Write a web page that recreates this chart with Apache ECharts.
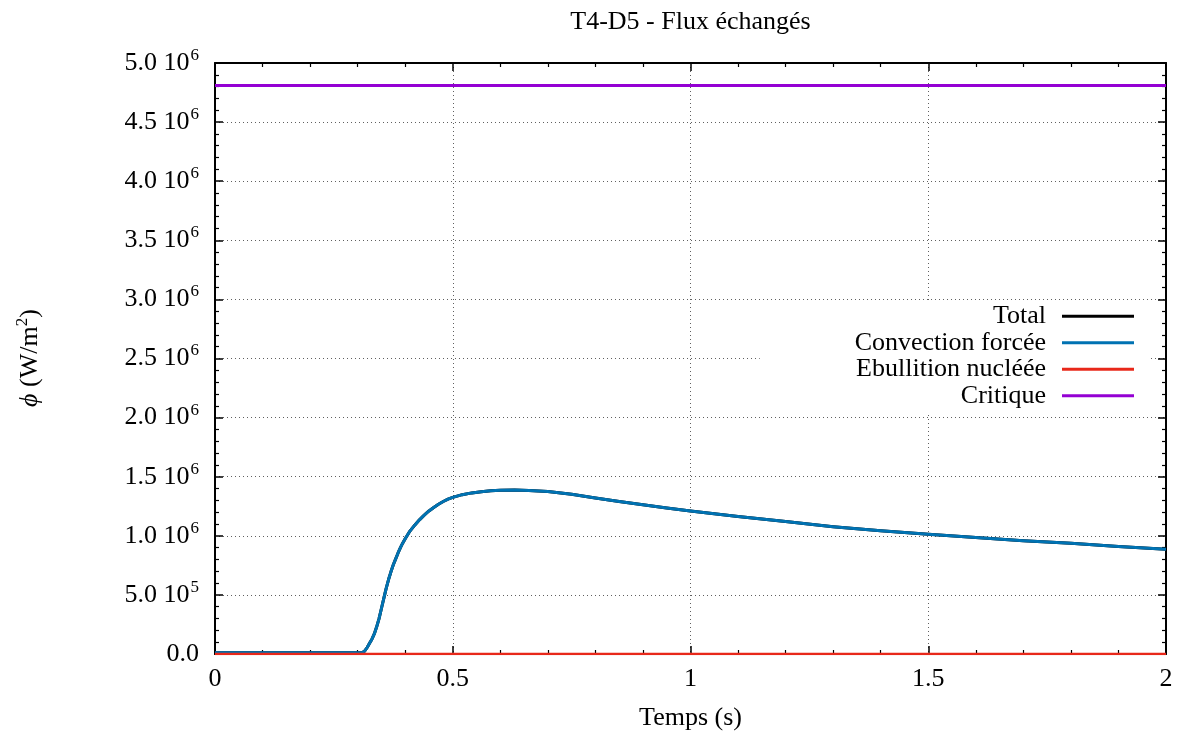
<!DOCTYPE html>
<html>
<head>
<meta charset="utf-8">
<script src="https://cdn.jsdelivr.net/npm/echarts@6/dist/echarts.min.js"></script>
<style>html,body{margin:0;padding:0;background:#fff}#c{width:1179px;height:735px}</style>
</head>
<body>
<div id="c"></div>
<script>
// ---- data ----
const titleText = 'T4-D5 - Flux échangés';
const xName = 'Temps (s)';
const seriesNames = ['Total', 'Convection forcée', 'Ebullition nucléée', 'Critique'];
const xTickLabels = ['0', '0.5', '1', '1.5', '2'];
const yTickMantissa = ['0.0', '5.0', '1.0', '1.5', '2.0', '2.5', '3.0', '3.5', '4.0', '4.5', '5.0'];
const yTickExponent = ['', '5', '6', '6', '6', '6', '6', '6', '6', '6', '6'];

const times = [0, 0.1, 0.2, 0.3, 0.305, 0.31, 0.315, 0.32, 0.325, 0.33, 0.335, 0.34, 0.345, 0.35, 0.355, 0.36, 0.365, 0.37,
  0.375, 0.38, 0.385, 0.39, 0.395, 0.40, 0.41, 0.42, 0.43, 0.44, 0.45, 0.46, 0.47, 0.48, 0.49, 0.50, 0.52, 0.54, 0.56, 0.58, 0.60,
  0.63, 0.66, 0.70, 0.75, 0.80, 0.85, 0.90, 0.95, 1.0, 1.1, 1.2, 1.3, 1.4, 1.5, 1.6, 1.7, 1.8, 1.9, 2.0];
const convection = [1.0e4, 1.0e4, 1.0e4, 1.0e4, 1.05e4, 1.3e4, 2.6e4, 5.5e4, 9.0e4, 1.25e5, 1.7e5, 2.3e5, 3.0e5, 3.85e5, 4.7e5, 5.55e5, 6.3e5, 6.95e5,
  7.55e5, 8.05e5, 8.55e5, 9.0e5, 9.4e5, 9.75e5, 1.04e6, 1.09e6, 1.135e6, 1.175e6, 1.21e6, 1.24e6, 1.267e6, 1.29e6, 1.31e6, 1.325e6, 1.348e6, 1.363e6, 1.373e6, 1.381e6, 1.385e6,
  1.387e6, 1.384e6, 1.374e6, 1.352e6, 1.32e6, 1.29e6, 1.262e6, 1.236e6, 1.21e6, 1.163e6, 1.12e6, 1.077e6, 1.042e6, 1.013e6, 0.985e6, 0.958e6, 0.936e6, 0.91e6, 0.886e6];
const total = [1.0e4, 1.0e4, 1.0e4, 1.0e4, 1.05e4, 1.3e4, 2.6e4, 5.5e4, 9.0e4, 1.25e5, 1.7e5, 2.3e5, 3.0e5, 3.85e5, 4.7e5, 5.55e5, 6.3e5, 6.95e5,
  7.55e5, 8.05e5, 8.55e5, 9.0e5, 9.4e5, 9.75e5, 1.04e6, 1.09e6, 1.135e6, 1.175e6, 1.21e6, 1.24e6, 1.267e6, 1.29e6, 1.31e6, 1.325e6, 1.348e6, 1.363e6, 1.373e6, 1.381e6, 1.385e6,
  1.387e6, 1.384e6, 1.374e6, 1.352e6, 1.32e6, 1.29e6, 1.262e6, 1.236e6, 1.21e6, 1.163e6, 1.12e6, 1.077e6, 1.042e6, 1.013e6, 0.985e6, 0.958e6, 0.936e6, 0.91e6, 0.886e6];
const sparseTimes = [0, 0.5, 1.0, 1.5, 2.0];
const ebullition = [0, 0, 0, 0, 0];
const critique = [4.81e6, 4.81e6, 4.81e6, 4.81e6, 4.81e6];

const colors = ['#000000', '#0072b2', '#e8281a', '#9400d3'];

// ---- build ----
const FONT = "'Liberation Serif', 'DejaVu Serif', serif";
const FS = 26;
function pairs(xs, ys) { return xs.map((x, i) => [x, ys[i]]); }

const gridLine = { show: true, lineStyle: { color: '#606060', width: 1, type: [1, 3] } };
const axisLineStyle = { show: true, onZero: false, lineStyle: { color: '#000', width: 2 } };
const tickStyle = { show: true, inside: true, length: 8, lineStyle: { color: '#000', width: 1.5 } };
const minorStyle = { show: true, splitNumber: 5, length: 4, lineStyle: { color: '#000', width: 1.2 } };

const option = {
  animation: false,
  backgroundColor: '#fff',
  color: colors,
  grid: { left: 215, right: 13, top: 63, bottom: 81, containLabel: false },
  xAxis: [
    {
      type: 'value', min: 0, max: 2, interval: 0.5, position: 'bottom',
      axisLine: axisLineStyle, axisTick: tickStyle, minorTick: minorStyle, splitLine: gridLine,
      axisLabel: {
        margin: 12, color: '#000', fontFamily: FONT, fontSize: FS,
        formatter: (v) => xTickLabels[Math.round(v / 0.5)]
      }
    },
    {
      type: 'value', min: 0, max: 2, interval: 0.5, position: 'top',
      axisLine: axisLineStyle, axisTick: tickStyle, minorTick: minorStyle,
      splitLine: { show: false }, axisLabel: { show: false }
    }
  ],
  yAxis: [
    {
      type: 'value', min: 0, max: 5e6, interval: 5e5, position: 'left',
      axisLine: axisLineStyle, axisTick: tickStyle, minorTick: minorStyle, splitLine: gridLine,
      axisLabel: {
        margin: 16, color: '#000',
        formatter: (v) => {
          const i = Math.round(v / 5e5);
          return yTickExponent[i] ? '{m|' + yTickMantissa[i] + ' 10}{e|' + yTickExponent[i] + '}' : '{m|' + yTickMantissa[i] + '}';
        },
        rich: {
          m: { fontFamily: FONT, fontSize: FS, lineHeight: FS, color: '#000', verticalAlign: 'bottom' },
          e: { fontFamily: FONT, fontSize: 17, lineHeight: 17, color: '#000', verticalAlign: 'bottom', padding: [0, 0, 12, 1] }
        }
      }
    },
    {
      type: 'value', min: 0, max: 5e6, interval: 5e5, position: 'right',
      axisLine: axisLineStyle, axisTick: tickStyle, minorTick: minorStyle,
      splitLine: { show: false }, axisLabel: { show: false }
    }
  ],
  legend: {
    orient: 'vertical', right: 31, top: 300, align: 'right',
    icon: 'rect', itemWidth: 72, itemHeight: 3, itemGap: 0,
    backgroundColor: '#fff', padding: [3, 14, 3, 95],
    data: seriesNames,
    textStyle: { fontFamily: FONT, fontSize: FS, color: '#000', lineHeight: 26.5, padding: [0, 11, 0, 0] }
  },
  graphic: [
    { type: 'text', x: 690.5, y: 22, style: { text: titleText, fontFamily: FONT, fontSize: FS, fill: '#000', align: 'center', verticalAlign: 'middle' } },
    { type: 'text', x: 690.5, y: 718, style: { text: xName, fontFamily: FONT, fontSize: FS, fill: '#000', align: 'center', verticalAlign: 'middle' } },
    {
      type: 'text', x: 30, y: 358, rotation: Math.PI / 2,
      style: {
        text: '{i|ϕ} (W/m{s|2})', align: 'center', verticalAlign: 'middle', fill: '#000',
        rich: {
          i: { fontFamily: FONT, fontStyle: 'italic', fontSize: FS, lineHeight: FS, verticalAlign: 'bottom' },
          s: { fontFamily: FONT, fontSize: 17, lineHeight: 17, verticalAlign: 'bottom', padding: [0, 0, 12, 0] }
        },
        fontFamily: FONT, fontSize: FS, lineHeight: FS
      }
    }
  ],
  series: [
    { name: seriesNames[0], type: 'line', data: pairs(times, total), showSymbol: false, symbol: 'none', lineStyle: { width: 3, color: colors[0], join: 'round' } },
    { name: seriesNames[1], type: 'line', data: pairs(times, convection), showSymbol: false, symbol: 'none', lineStyle: { width: 3, color: colors[1], join: 'round' } },
    { name: seriesNames[2], type: 'line', data: pairs(sparseTimes, ebullition), showSymbol: false, symbol: 'none', lineStyle: { width: 2.5, color: colors[2] } },
    { name: seriesNames[3], type: 'line', data: pairs(sparseTimes, critique), showSymbol: false, symbol: 'none', lineStyle: { width: 3, color: colors[3] } }
  ]
};

const chart = echarts.init(document.getElementById('c'), null, { renderer: 'canvas' });
chart.setOption(option);
</script>
</body>
</html>
